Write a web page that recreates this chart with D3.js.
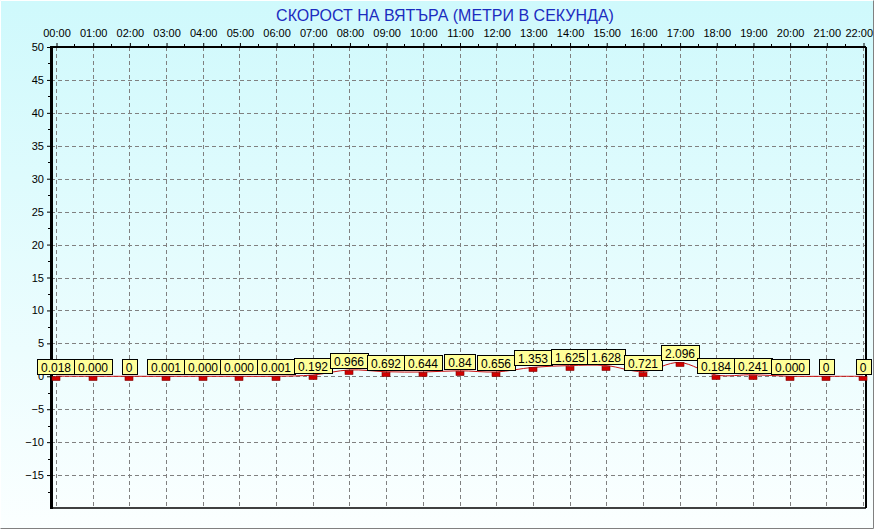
<!DOCTYPE html>
<html>
<head>
<meta charset="utf-8">
<script src="https://cdnjs.cloudflare.com/ajax/libs/d3/7.8.5/d3.min.js"></script>
<style>
  html, body { margin: 0; padding: 0; background: #fff; }
  svg { display: block; font-family: Arial, "Liberation Sans", sans-serif; }
</style>
</head>
<body>
<div id="app"></div>
<script>
const title = "СКОРОСТ НА ВЯТЪРА (МЕТРИ В СЕКУНДА)";
const hours = ["00:00","01:00","02:00","03:00","04:00","05:00","06:00","07:00","08:00","09:00","10:00","11:00",
  "12:00","13:00","14:00","15:00","16:00","17:00","18:00","19:00","20:00","21:00","22:00"];
const speeds = [0.018, 0.000, 0, 0.001, 0.000, 0.000, 0.001, 0.192, 0.966, 0.692, 0.644, 0.84,
  0.656, 1.353, 1.625, 1.628, 0.721, 2.096, 0.184, 0.241, 0.000, 0, 0];
const speedLabels = ["0.018","0.000","0","0.001","0.000","0.000","0.001","0.192","0.966","0.692","0.644","0.84",
  "0.656","1.353","1.625","1.628","0.721","2.096","0.184","0.241","0.000","0","0"];
const yTicks = [-15, -10, -5, 0, 5, 10, 15, 20, 25, 30, 35, 40, 45, 50];

const width = 874, height = 529;
const plot = { left: 51, right: 866, top: 47, bottom: 508 };
const font = 'Arial, "Liberation Sans", sans-serif';

const svg = d3.select('#app').append('svg')
  .attr('width', width).attr('height', height);

// background gradient
const grad = svg.append('defs').append('linearGradient')
  .attr('id', 'bg').attr('x1', 0).attr('y1', 0).attr('x2', 0).attr('y2', 1);
grad.append('stop').attr('offset', '0%').attr('stop-color', '#cff9fc');
grad.append('stop').attr('offset', '100%').attr('stop-color', '#fbffff');

svg.append('rect').attr('width', width).attr('height', height).attr('fill', 'url(#bg)');
// outer frame: light top/left, grey bottom/right
svg.append('path').attr('d', `M0.5,${height - 0.5}V0.5H${width - 0.5}`).attr('stroke', '#fff').attr('fill', 'none');
svg.append('path').attr('d', `M${width - 0.5},0.5V${height - 0.5}H0.5`).attr('stroke', '#808080').attr('fill', 'none');

const x = d3.scaleLinear().domain([0, hours.length - 1]).range([56, 863]);
const y = d3.scaleLinear().domain([-20, 50]).range([plot.bottom, plot.top]);

// grid
const grid = svg.append('g').attr('stroke', '#808080').attr('stroke-dasharray', '4,3').attr('stroke-width', 1);
grid.selectAll('line.v').data(hours).join('line')
  .attr('x1', (d, i) => Math.round(x(i)) + 0.5).attr('x2', (d, i) => Math.round(x(i)) + 0.5)
  .attr('y1', plot.top).attr('y2', plot.bottom);
grid.selectAll('line.h').data(yTicks.filter(d => d < 50)).join('line')
  .attr('x1', plot.left).attr('x2', plot.right)
  .attr('y1', d => Math.round(y(d)) + 0.5).attr('y2', d => Math.round(y(d)) + 0.5);

// frame
svg.append('line').attr('x1', plot.left).attr('x2', plot.right).attr('y1', plot.top).attr('y2', plot.top)
  .attr('stroke', '#000').attr('stroke-width', 2);
svg.append('line').attr('x1', plot.left).attr('x2', plot.right).attr('y1', plot.bottom).attr('y2', plot.bottom)
  .attr('stroke', '#000').attr('stroke-width', 1.5);
svg.append('line').attr('x1', plot.right).attr('x2', plot.right).attr('y1', plot.top).attr('y2', plot.bottom)
  .attr('stroke', '#000').attr('stroke-width', 2);

// top axis (hours)
const xAxis = d3.axisTop(x)
  .tickValues(d3.range(hours.length))
  .tickFormat((d) => hours[d])
  .tickSize(3).tickPadding(6);
const gx = svg.append('g').attr('transform', `translate(0.5,${plot.top - 1})`).call(xAxis);
gx.select('.domain').remove();
gx.selectAll('text').attr('font-size', 11).attr('fill', '#000').attr('font-family', font);
gx.selectAll('line').attr('stroke', '#000');
// last label kept inside the picture
gx.selectAll('.tick').filter(d => d === hours.length - 1).select('text')
  .attr('text-anchor', 'end').attr('dx', 9);
// half-hour minor ticks
svg.append('g').selectAll('line').data(d3.range(0.5, hours.length - 1, 1)).join('line')
  .attr('x1', d => Math.round(x(d)) + 0.5).attr('x2', d => Math.round(x(d)) + 0.5)
  .attr('y1', plot.top - 3).attr('y2', plot.top)
  .attr('stroke', '#000');

// left axis
const yAxis = d3.axisLeft(y).tickValues(yTicks).tickSize(4).tickPadding(3);
const gy = svg.append('g').attr('transform', `translate(${plot.left},0)`).call(yAxis);
gy.select('.domain').remove();
gy.selectAll('text').attr('font-size', 11).attr('fill', '#000').attr('font-family', font);
gy.selectAll('line').attr('stroke', '#000');
svg.append('g').selectAll('line').data(d3.range(-17.5, 50, 5)).join('line')
  .attr('x1', plot.left - 3).attr('x2', plot.left)
  .attr('y1', d => Math.round(y(d)) + 0.5).attr('y2', d => Math.round(y(d)) + 0.5)
  .attr('stroke', '#000');
svg.append('line').attr('x1', plot.left + 0.5).attr('x2', plot.left + 0.5)
  .attr('y1', plot.top - 1).attr('y2', plot.bottom + 1)
  .attr('stroke', '#000').attr('stroke-width', 3);

// title
svg.append('text').attr('x', 445).attr('y', 21).attr('text-anchor', 'middle')
  .attr('font-size', 16).attr('fill', '#1c2cc0').text(title);

// line
const line = d3.line()
  .x((d, i) => x(i))
  .y(d => y(d))
  .curve(d3.curveCardinal);
svg.append('path').datum(speeds)
  .attr('fill', 'none').attr('stroke', '#cc1010').attr('stroke-width', 1)
  .attr('d', line);

// markers
svg.append('g').selectAll('rect').data(speeds).join('rect')
  .attr('x', (d, i) => Math.round(x(i)) - 4).attr('y', d => Math.round(y(d)) + 0.5)
  .attr('width', 8).attr('height', 4)
  .attr('fill', '#d00000').attr('stroke', '#800000').attr('stroke-width', 0.6);

// value labels
const lbl = svg.append('g').selectAll('g').data(speeds).join('g')
  .attr('transform', (d, i) => `translate(${Math.round(x(i))},${Math.round(y(d)) - 1})`);
lbl.append('text')
  .attr('text-anchor', 'middle').attr('y', -3.5)
  .attr('font-size', 12).attr('fill', '#000')
  .text((d, i) => speedLabels[i]);
lbl.insert('rect', 'text')
  .each(function () {
    const w = d3.select(this.parentNode).select('text').node().getComputedTextLength() + 8;
    d3.select(this).attr('x', -Math.round(w / 2) + 0.5).attr('y', -15.5).attr('width', Math.round(w)).attr('height', 15);
  })
  .attr('fill', '#ffff99').attr('stroke', '#000').attr('stroke-width', 1);
</script>
</body>
</html>
